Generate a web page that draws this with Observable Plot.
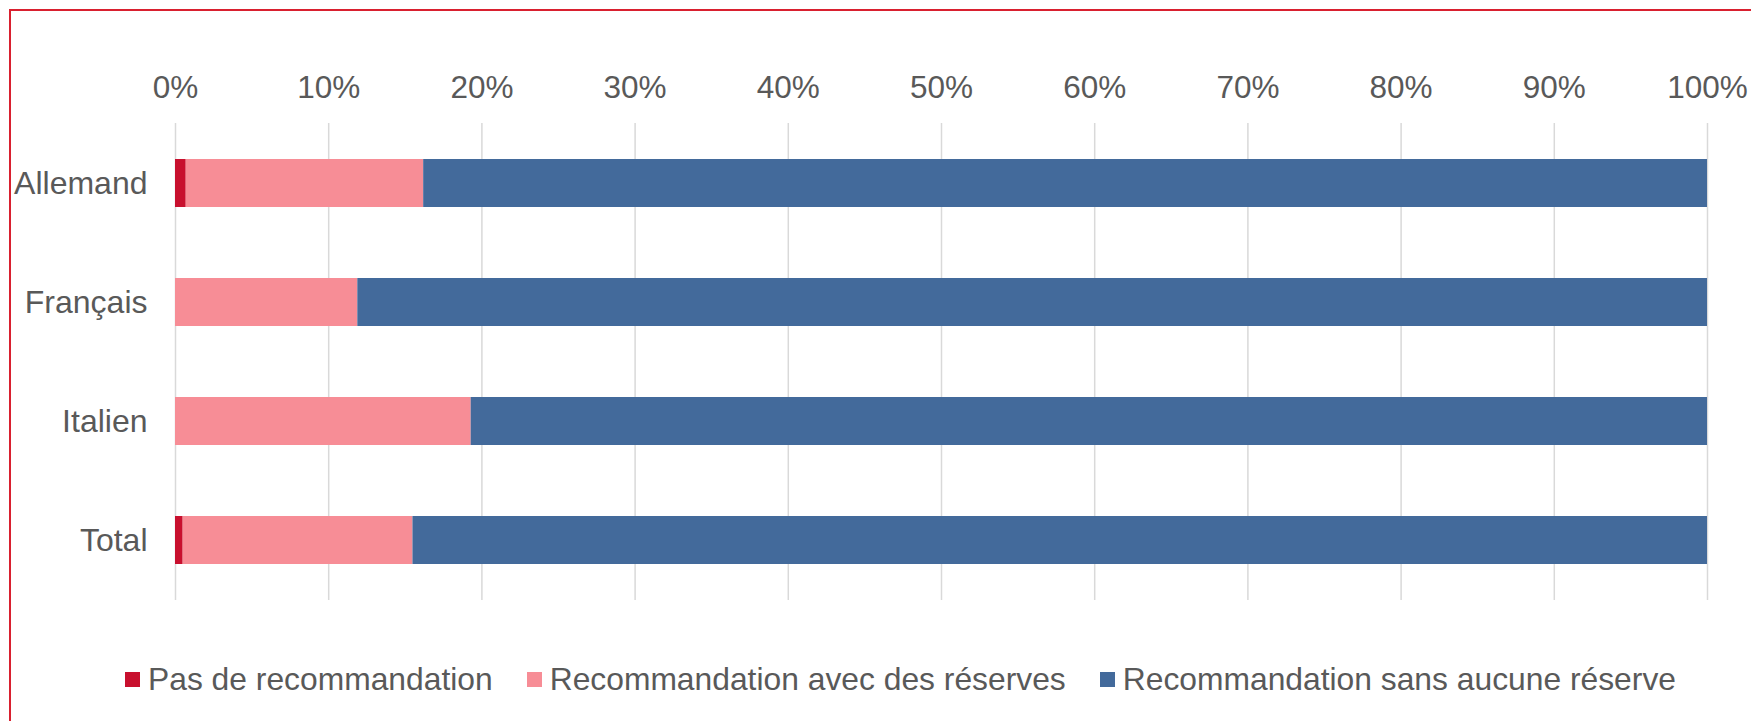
<!DOCTYPE html>
<html>
<head>
<meta charset="utf-8">
<script src="https://cdn.jsdelivr.net/npm/d3@7"></script>
<script src="https://cdn.jsdelivr.net/npm/@observablehq/plot@0.6"></script>
<style>
  html, body { margin: 0; padding: 0; background: #fff; width: 1751px; height: 721px; overflow: hidden; }
  #frame { position: absolute; left: 9px; top: 9px; width: 1900px; height: 900px; border: 2px solid #D9202F; box-sizing: border-box; }
  #chart { position: absolute; left: 0; top: 0; }
  #legend { position: absolute; left: 125px; top: 661px; display: flex; align-items: center; font-family: "Liberation Sans", Arial, sans-serif; font-size: 31.8px; color: #595959; white-space: nowrap; }
  .item { display: flex; align-items: center; margin-right: 34px; }
  .sw { width: 15px; height: 15px; margin-right: 8px; }
</style>
</head>
<body>
<div id="frame"></div>
<div id="chart"></div>
<div id="legend"></div>
<script>
const categories = ["Allemand", "Français", "Italien", "Total"];
const seriesNames = ["Pas de recommandation", "Recommandation avec des réserves", "Recommandation sans aucune réserve"];
const pasDeRecommandation = [0.7, 0, 0, 0.5];
const avecReserves = [15.5, 11.9, 19.3, 15.0];
const sansReserve = [83.8, 88.1, 80.7, 84.5];
const seriesColors = ["#C8102E", "#F78D96", "#436A9B"];
const xTicks = [0, 10, 20, 30, 40, 50, 60, 70, 80, 90, 100];

const seriesValues = [pasDeRecommandation, avecReserves, sansReserve];
const data = [];
categories.forEach((c, i) => {
  seriesNames.forEach((s, j) => {
    data.push({cat: c, serie: s, value: seriesValues[j][i]});
  });
});

const fmt = d => d + "%";

const chart = Plot.plot({
  width: 1751,
  height: 645,
  marginLeft: 175,
  marginRight: 44,
  marginTop: 123,
  marginBottom: 45,
  style: {fontFamily: "'Liberation Sans', Arial, sans-serif", fontSize: "31px", color: "#595959", background: "transparent"},
  x: {domain: [0, 100], axis: null},
  y: {domain: categories, paddingInner: 0.6, paddingOuter: 0.3, axis: null},
  color: {domain: seriesNames, range: seriesColors},
  marks: [
    Plot.gridX(xTicks, {stroke: "#d9d9d9", strokeOpacity: 1, strokeWidth: 1.5}),
    Plot.barX(data, Plot.stackX({x: "value", y: "cat", fill: "serie", order: seriesNames})),
    Plot.axisX({anchor: "top", ticks: xTicks, tickFormat: fmt, tickSize: 0, tickPadding: 26, label: null, fill: "#595959", fontSize: 31.5}),
    Plot.axisY({anchor: "left", tickSize: 0, tickPadding: 28, label: null, fill: "#595959", fontSize: 32})
  ]
});
document.getElementById("chart").appendChild(chart);

const legend = document.getElementById("legend");
seriesNames.forEach((s, j) => {
  const item = document.createElement("div");
  item.className = "item";
  const sw = document.createElement("div");
  sw.className = "sw";
  sw.style.background = seriesColors[j];
  const t = document.createElement("span");
  t.textContent = s;
  item.appendChild(sw);
  item.appendChild(t);
  legend.appendChild(item);
});
</script>
</body>
</html>
